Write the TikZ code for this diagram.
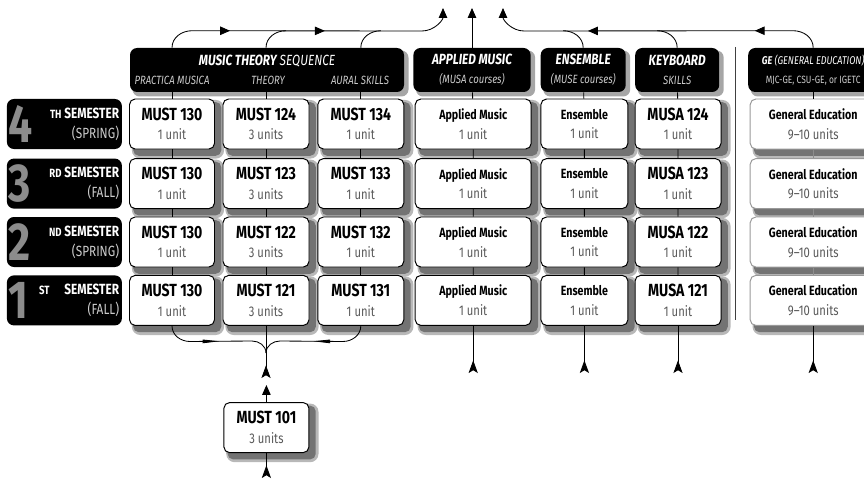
\documentclass[tikz,border=0pt]{standalone}
\usepackage{fontspec}
\setmainfont{Fira Sans}[FakeStretch=0.8]
\usetikzlibrary{arrows.meta,backgrounds,decorations.markings}
\newcommand{\credit}[1]{{\fontsize{10}{13}\selectfont\mdseries\color{black!65}#1}}
\newcommand{\hsub}[1]{{\fontsize{8.5}{10}\selectfont\mdseries\color{white!80!black}#1}}
\newcommand{\ord}[1]{{\fontsize{8.5}{9}\selectfont #1}}
\tikzset{box/.style={draw,rounded corners=4pt,fill=white,line width=0.7pt,minimum width=2.15cm,minimum height=1.25cm,align=center,inner sep=1pt,
  font=\fontsize{12.5}{14}\selectfont\bfseries},
sbox/.style={box,font=\fontsize{9.5}{14}\selectfont\bfseries},
gbox/.style={sbox,draw=black!40,minimum width=3.15cm},
head/.style={fill=black,rounded corners=5pt,minimum height=1.1cm,text=white,align=center,inner sep=1pt,
  font=\fontsize{10.5}{13.5}\selectfont\itshape},
sem/.style={fill=black,rounded corners=5pt,minimum width=2.875cm,minimum height=1.25cm},
dig/.style={anchor=west,text=black!45,inner sep=1pt,font=\fontsize{38}{38}\selectfont\bfseries},
semtxt/.style={anchor=east,text=white,align=right,inner sep=2pt,font=\fontsize{10.5}{14}\selectfont\bfseries},
line/.style={line width=0.6pt},
arrow/.style={line,-{Triangle[width=6pt,length=7pt]}},
tail/.style={line,-{Stealth[reversed,length=9pt,width=6.5pt,inset=2pt]}}}

\begin{document}
\begin{tikzpicture}
\useasboundingbox (0,0) rectangle (21.6,12);

% column heads
\node[head,minimum width=6.85cm] (h) at (6.675,10.25) {};
\node[text=white,inner sep=0pt,font=\fontsize{10.5}{12}\selectfont\itshape] (h0) at (6.675,10.47) {\textbf{MUSIC THEORY} \mdseries SEQUENCE};
\node[inner sep=0pt,font=\itshape] (h1) at (4.3,10.0) {\hsub{PRACTICA MUSICA}};
\node[inner sep=0pt,font=\itshape] (h2) at (6.7,10.0) {\hsub{THEORY}};
\node[inner sep=0pt,font=\itshape] (h3) at (9.0,10.0) {\hsub{AURAL SKILLS}};
\node[head,minimum width=2.93cm] (ha) at (11.8,10.25) {\textbf{APPLIED MUSIC}\\\hsub{(MUSA courses)}};
\node[head,minimum width=2.125cm] (he) at (14.58,10.25) {\textbf{ENSEMBLE}\\\hsub{(MUSE courses)}};
\node[head,minimum width=2.1cm] (hk) at (16.93,10.25) {\textbf{KEYBOARD}\\\hsub{SKILLS}};
\node[head,minimum width=3.25cm,font=\fontsize{8}{13.5}\selectfont\itshape] (hg) at (20.33,10.25) {\textbf{GE} \mdseries (GENERAL EDUCATION)\\\hsub{\upshape\fontsize{7.5}{9}\selectfont MJC-GE, CSU-GE, or IGETC}};

% semesters
\node[sem] (s4) at (1.61,8.9) {};
\node[dig] (d4) at (s4.west) {4};
\node[semtxt] (w4) at (s4.east) {\ord{TH} SEMESTER\\\mdseries\color{white!80!black}(SPRING)};
\node[sem] (s3) at (1.61,7.41) {};
\node[dig] (d3) at (s3.west) {3};
\node[semtxt] (w3) at (s3.east) {\ord{RD} SEMESTER\\\mdseries\color{white!80!black}(FALL)};
\node[sem] (s2) at (1.61,5.95) {};
\node[dig] (d2) at (s2.west) {2};
\node[semtxt] (w2) at (s2.east) {\ord{ND} SEMESTER\\\mdseries\color{white!80!black}(SPRING)};
\node[sem] (s1) at (1.61,4.49) {};
\node[dig] (d1) at (s1.west) {1};
\node[semtxt] (w1) at (s1.east) {\ord{ST}\quad SEMESTER\\\mdseries\color{white!80!black}(FALL)};

% 4th semester
\node[box,minimum width=2.125cm] (p4) at (4.3,8.9) {MUST 130\\\credit{1 unit}};
\node[box] (t4) at (6.65,8.9) {MUST 124\\\credit{3 units}};
\node[box] (a4) at (9.02,8.9) {MUST 134\\\credit{1 unit}};
\node[sbox,minimum width=2.9cm] (m4) at (11.83,8.9) {Applied Music\\\credit{1 unit}};
\node[sbox,minimum width=2.175cm] (e4) at (14.61,8.9) {Ensemble\\\credit{1 unit}};
\node[box] (k4) at (16.95,8.9) {MUSA 124\\\credit{1 unit}};
\node[gbox] (g4) at (20.33,8.9) {General Education\\\credit{9--10 units}};
% 3rd semester
\node[box,minimum width=2.125cm] (p3) at (4.3,7.41) {MUST 130\\\credit{1 unit}};
\node[box] (t3) at (6.65,7.41) {MUST 123\\\credit{3 units}};
\node[box] (a3) at (9.02,7.41) {MUST 133\\\credit{1 unit}};
\node[sbox,minimum width=2.9cm] (m3) at (11.83,7.41) {Applied Music\\\credit{1 unit}};
\node[sbox,minimum width=2.175cm] (e3) at (14.61,7.41) {Ensemble\\\credit{1 unit}};
\node[box] (k3) at (16.95,7.41) {MUSA 123\\\credit{1 unit}};
\node[gbox] (g3) at (20.33,7.41) {General Education\\\credit{9--10 units}};
% 2nd semester
\node[box,minimum width=2.125cm] (p2) at (4.3,5.95) {MUST 130\\\credit{1 unit}};
\node[box] (t2) at (6.65,5.95) {MUST 122\\\credit{3 units}};
\node[box] (a2) at (9.02,5.95) {MUST 132\\\credit{1 unit}};
\node[sbox,minimum width=2.9cm] (m2) at (11.83,5.95) {Applied Music\\\credit{1 unit}};
\node[sbox,minimum width=2.175cm] (e2) at (14.61,5.95) {Ensemble\\\credit{1 unit}};
\node[box] (k2) at (16.95,5.95) {MUSA 122\\\credit{1 unit}};
\node[gbox] (g2) at (20.33,5.95) {General Education\\\credit{9--10 units}};
% 1st semester
\node[box,minimum width=2.125cm] (p1) at (4.3,4.49) {MUST 130\\\credit{1 unit}};
\node[box] (t1) at (6.65,4.49) {MUST 121\\\credit{3 units}};
\node[box] (a1) at (9.02,4.49) {MUST 131\\\credit{1 unit}};
\node[sbox,minimum width=2.9cm] (m1) at (11.83,4.49) {Applied Music\\\credit{1 unit}};
\node[sbox,minimum width=2.175cm] (e1) at (14.61,4.49) {Ensemble\\\credit{1 unit}};
\node[box] (k1) at (16.95,4.49) {MUSA 121\\\credit{1 unit}};
\node[gbox] (g1) at (20.33,4.49) {General Education\\\credit{9--10 units}};

\node[box,minimum width=2.125cm] (i) at (6.66,1.31) {MUST 101\\\credit{3 units}};

% shadows
\begin{scope}[on background layer]
\foreach \n in {p4,t4,a4,m4,e4,k4,g4,p3,t3,a3,m3,e3,k3,g3,p2,t2,a2,m2,e2,k2,g2,p1,t1,a1,m1,e1,k1,g1,i} {
  \fill[black!28,rounded corners=6pt] ([shift={(2pt,-6.5pt)}]\n.south west) rectangle ([shift={(6.5pt,-1pt)}]\n.north east);
  \fill[black!55,rounded corners=4pt] ([shift={(3pt,-4.5pt)}]\n.south west) rectangle ([shift={(4.5pt,-2.5pt)}]\n.north east);
}
\foreach \n in {h,ha,he,hk,hg}
  \fill[black!35,rounded corners=5pt] ([shift={(2pt,-3pt)}]\n.south west) rectangle ([shift={(3pt,-2pt)}]\n.north east);
\end{scope}

\coordinate (u1) at (11.075,11.8);
\coordinate (u2) at (11.8,11.8);
\coordinate (u3) at (12.575,11.8);
\coordinate (j) at (6.65,3.175);
\coordinate (c) at (6.66,2.375);

% columns
\draw[line] (p4 |- h.south) -- (p4) (p4) -- (p3) (p3) -- (p2) (p2) -- (p1);
\draw[line] (t4 |- h.south) -- (t4) (t4) -- (t3) (t3) -- (t2) (t2) -- (t1);
\draw[line] (a4 |- h.south) -- (a4) (a4) -- (a3) (a3) -- (a2) (a2) -- (a1);
\draw[line] (ha) -- (m4) (m4) -- (m3) (m3) -- (m2) (m2) -- (m1);
\draw[line] (he) -- (e4) (e4) -- (e3) (e3) -- (e2) (e2) -- (e1);
\draw[line] (hk) -- (k4) (k4) -- (k3) (k3) -- (k2) (k2) -- (k1);
\draw[line] (hg) -- (g4);
\draw[line,black!45] (g4) -- (g3) (g3) -- (g2) (g2) -- (g1);
\draw[line,black!75] (18.375,10.83) -- (18.375,4.0);

% up to the next level
\draw[arrow,postaction={decorate},decoration={markings,
  mark=at position 1.68cm with {\arrow{Triangle[width=6pt,length=7pt]}},
  mark=at position 4.05cm with {\arrow{Triangle[width=6pt,length=7pt]}}}]
  (p4 |- h.north) to[out=90,in=180] ++(0.5,0.425) -- (10.55,11.225) to[out=0,in=-90] (u1);
\draw[line] (t4 |- h.north) to[out=90,in=180] ++(0.5,0.425);
\draw[line] (a4 |- h.north) to[out=90,in=180] ++(0.5,0.425);
\draw[arrow] (ha) -- (u2);
\draw[arrow,postaction={decorate},decoration={markings,
  mark=at position 1.69cm with {\arrow{Triangle[width=6pt,length=7pt]}},
  mark=at position 5.86cm with {\arrow{Triangle[width=6pt,length=7pt]}}}]
  (hg.north) to[out=90,in=0] ++(-0.5,0.425) -- (13.1,11.225) to[out=180,in=-90] (u3);
\draw[line] (he.north) to[out=90,in=0] ++(-0.5,0.425);
\draw[line] (hk.north) to[out=90,in=0] ++(-0.5,0.425);

% from below
\draw[line,postaction={decorate},decoration={markings,
  mark=at position 1.4cm with {\arrow{Triangle[width=2.5pt,length=12pt]}}}]
  (p1.south) to[out=-90,in=180] ++(0.45,-0.39) -- (6.3,3.475) to[out=0,in=90] (j);
\draw[line,postaction={decorate},decoration={markings,
  mark=at position 1.4cm with {\arrow{Triangle[width=2.5pt,length=12pt]}}}]
  (a1.south) to[out=-90,in=0] ++(-0.45,-0.39) -- (7.0,3.475) to[out=180,in=90] (j);
\draw[line] (t1) -- (j);
\draw[tail] (j) -- (6.65,2.55);
\draw[arrow] (i) -- (c);
\draw[tail] (i) -- (6.66,0.05);
\draw[tail] (m1) -- (11.83,2.675);
\draw[tail] (e1) -- (14.61,2.675);
\draw[tail] (k1) -- (16.95,2.675);
\draw[tail] (g1) -- (20.33,2.675);
\end{tikzpicture}
\end{document}
